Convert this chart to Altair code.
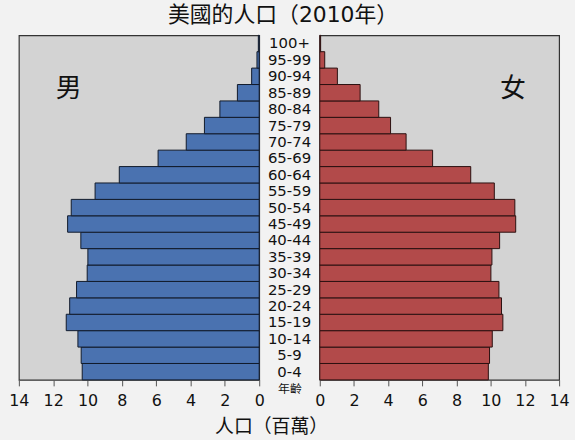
import altair as alt
import pandas as pd

ages = ["0-4", "5-9", "10-14", "15-19", "20-24", "25-29", "30-34", "35-39",
        "40-44", "45-49", "50-54", "55-59", "60-64", "65-69", "70-74", "75-79",
        "80-84", "85-89", "90-94", "95-99", "100+"]
male = [10.31, 10.37, 10.56, 11.24, 11.04, 10.64, 10.02, 9.98,
        10.39, 11.16, 10.95, 9.56, 8.15, 5.89, 4.25, 3.19,
        2.29, 1.27, 0.44, 0.13, 0.05]
female = [9.86, 9.93, 10.09, 10.71, 10.63, 10.48, 10.01, 10.07,
          10.52, 11.46, 11.41, 10.21, 8.83, 6.60, 5.05, 4.14,
          3.45, 2.36, 1.03, 0.29, 0.05]
ticks = [0, 2, 4, 6, 8, 10, 12, 14]

df = pd.DataFrame({"age": ages, "male": male, "female": female})
order = ages[::-1]

FONT = "DejaVu Sans, Noto Sans CJK TC"
H = 347
W = 242
MID = 61

yenc = alt.Y("age:N", sort=order, scale=alt.Scale(paddingInner=0, paddingOuter=0), axis=None)


def xaxis():
    return alt.Axis(values=ticks, title=None, grid=False, domain=False,
                    tickColor="#555", tickSize=6, tickWidth=1,
                    labelFontSize=16, labelColor="#111", labelPadding=7,
                    labelFont=FONT, labelOverlap=False, labelFlush=False)


view = alt.ViewBackground(fill="#d3d3d3", stroke="#333", strokeWidth=1.2)
lscale = alt.Scale(domain=[0, 14], reverse=True, nice=False)
rscale = alt.Scale(domain=[0, 14], nice=False)

left_bars = alt.Chart(df).mark_bar(color="#4a72b0", stroke="#111a2a", strokeWidth=1).encode(
    x=alt.X("male:Q", scale=lscale, axis=xaxis()),
    y=yenc,
)
left_lab = alt.Chart(pd.DataFrame({"t": ["男"]})).mark_text(
    fontSize=26, font=FONT, color="#111", dy=13
).encode(x=alt.X(datum=11.1, scale=lscale, axis=xaxis()), y=alt.datum("90-94"), text="t:N")
left = alt.layer(left_bars, left_lab).properties(width=W, height=H, view=view)

right_bars = alt.Chart(df).mark_bar(color="#b24a4a", stroke="#2a1010", strokeWidth=1).encode(
    x=alt.X("female:Q", scale=rscale, axis=xaxis()),
    y=yenc,
)
right_lab = alt.Chart(pd.DataFrame({"t": ["女"]})).mark_text(
    fontSize=26, font=FONT, color="#111", dy=13
).encode(x=alt.X(datum=11.3, scale=rscale, axis=xaxis()), y=alt.datum("90-94"), text="t:N")
right = alt.layer(right_bars, right_lab).properties(width=W - 1, height=H, view=view)

mid = alt.Chart(df).mark_text(fontSize=15, font=FONT, color="#111").encode(
    x=alt.X(datum=0.5, scale=alt.Scale(domain=[0, 1]),
            axis=alt.Axis(title="年齡", labels=False, ticks=False, domain=False, grid=False,
                          titleFontSize=12, titleFontWeight="normal", titlePadding=4,
                          titleFont=FONT, titleColor="#111")),
    y=yenc,
    text="age:N",
).properties(
    width=MID, height=H,
    view=alt.ViewBackground(fill=None, stroke=None),
    title=alt.TitleParams("人口（百萬）", orient="bottom", anchor="middle", fontSize=19,
                          fontWeight="normal", font=FONT, color="#111", offset=23, dx=-18),
)

chart = alt.hconcat(left, mid, right, spacing=0, bounds="flush").properties(
    title=alt.TitleParams("美國的人口（2010年）", anchor="middle", fontSize=22,
                          fontWeight="normal", font=FONT, color="#111", offset=7, dx=-6),
    background="#f2f2f2",
    padding={"left": 8, "right": 5, "top": 2, "bottom": 3},
)

chart.save("out.html", embed_options={"renderer": "svg", "actions": False})
